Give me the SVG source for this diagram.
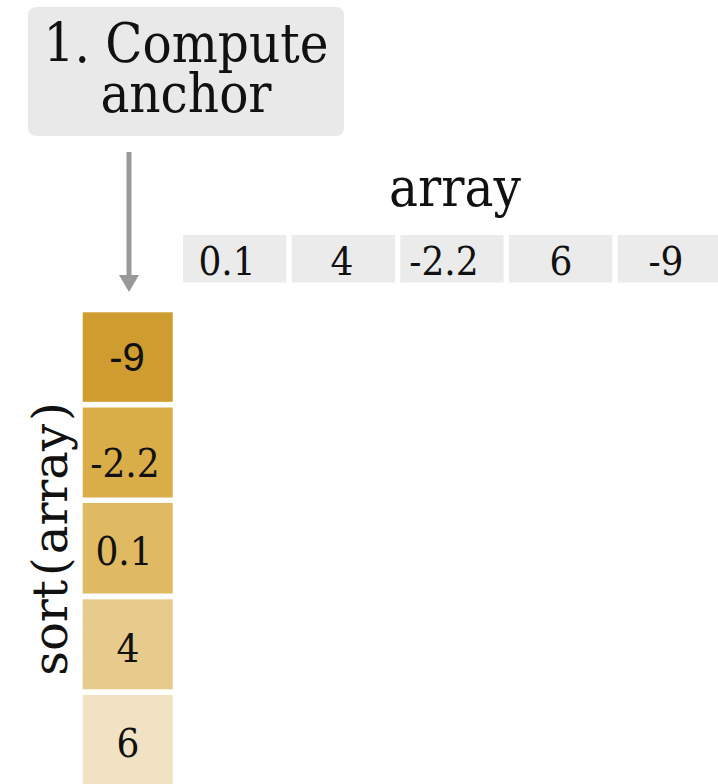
<svg xmlns="http://www.w3.org/2000/svg" width="718" height="784" viewBox="0 0 718 784">
<style>
.serif{font-family:"DejaVu Serif","Liberation Serif",serif;font-stretch:condensed;fill:#111}
.serifn{font-family:"DejaVu Serif","Liberation Serif",serif;font-stretch:normal;fill:#111}
.sans{font-family:"Liberation Sans","DejaVu Sans",sans-serif;fill:#111}
.cell{fill:#ebebeb}
</style>
<defs>
<marker id="ah" markerWidth="4" markerHeight="4" refX="0" refY="2" orient="auto" markerUnits="strokeWidth" viewBox="0 0 4 4">
<path d="M0,0 L3.4,2 L0,4 Z" fill="#999"/>
</marker>
</defs>
<rect width="718" height="784" fill="#fff"/>
<g id="step1">
<rect x="28" y="7" width="316" height="129" rx="8" fill="#e9e9e9"/>
<text class="serif" x="186" y="62" font-size="54" text-anchor="middle">1. Compute</text>
<text class="serif" x="186" y="112" font-size="54" text-anchor="middle">anchor</text>
</g>
<g id="connectors">
<line x1="129" y1="152" x2="129" y2="275" stroke="#999" stroke-width="5" marker-end="url(#ah)"/>
</g>
<g id="array">
<text class="serif" x="455" y="206" font-size="54" text-anchor="middle">array</text>
<rect class="cell" x="183" y="235" width="103.3" height="47.5"/>
<rect class="cell" x="291.7" y="235" width="103.3" height="47.5"/>
<rect class="cell" x="400.3" y="235" width="103.3" height="47.5"/>
<rect class="cell" x="509" y="235" width="103.3" height="47.5"/>
<rect class="cell" x="617.7" y="235" width="103.3" height="47.5"/>
<text class="serif" x="227" y="275" font-size="40" text-anchor="middle">0.1</text>
<text class="serif" x="342" y="275" font-size="40" text-anchor="middle">4</text>
<text class="serif" x="444" y="275" font-size="40" text-anchor="middle">-2.2</text>
<text class="serif" x="561" y="275" font-size="40" text-anchor="middle">6</text>
<text class="serif" x="666" y="275" font-size="40" text-anchor="middle">-9</text>
</g>
<g id="sorted">
<text class="serifn" transform="translate(67,539) rotate(-90)" font-size="48" text-anchor="middle">sort<tspan dx="4">(</tspan><tspan dx="3">array</tspan><tspan dx="3">)</tspan></text>
<rect x="82.7" y="312.3" width="90" height="89.5" fill="#cf9c30"/>
<rect x="82.7" y="407.5" width="90" height="90" fill="#d9ad48"/>
<rect x="82.7" y="503" width="90" height="90.5" fill="#dfba62"/>
<rect x="82.7" y="599.3" width="90" height="90" fill="#e6cb8c"/>
<rect x="82.7" y="695" width="90" height="89" fill="#f1e2c3"/>
<text class="sans" x="127" y="371" font-size="40" text-anchor="middle">-9</text>
<text class="serif" x="125" y="477" font-size="40" text-anchor="middle">-2.2</text>
<text class="serif" x="124" y="565" font-size="40" text-anchor="middle">0.1</text>
<text class="serif" x="128" y="662" font-size="40" text-anchor="middle">4</text>
<text class="serif" x="128" y="757" font-size="40" text-anchor="middle">6</text>
</g>
</svg>
